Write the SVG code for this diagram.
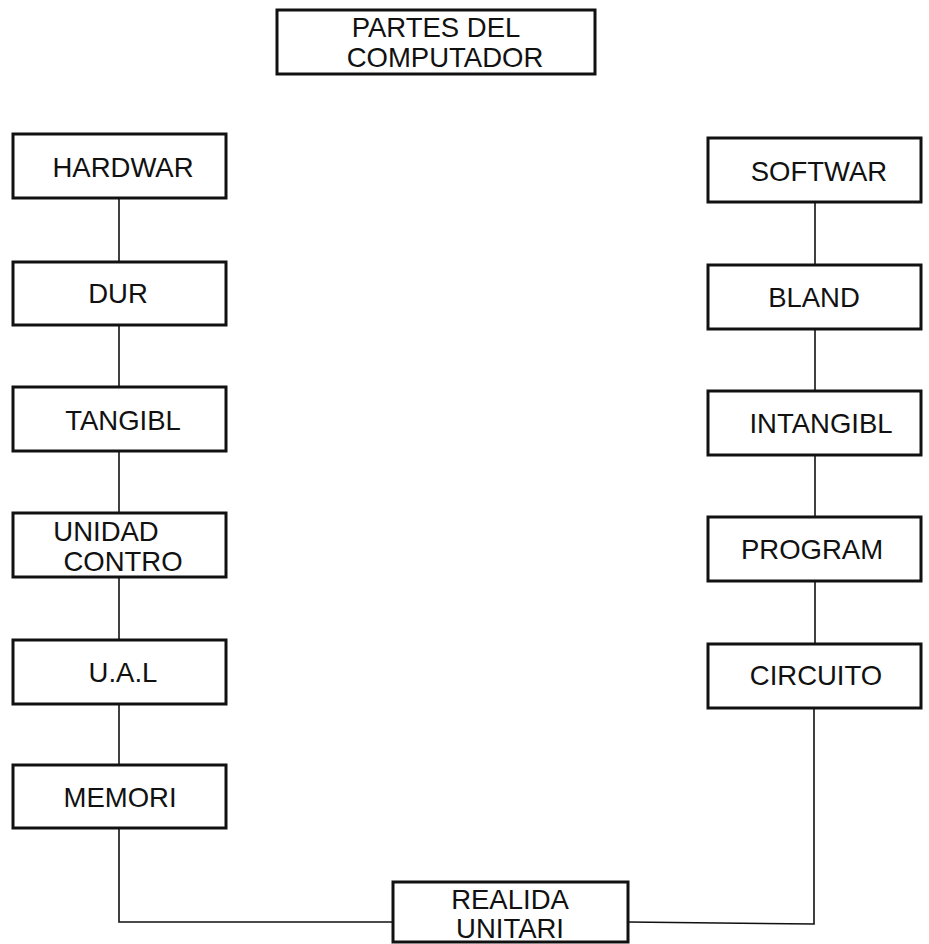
<svg xmlns="http://www.w3.org/2000/svg" width="929" height="944" viewBox="0 0 929 944">
<style>
.box{fill:#fff;stroke:#111;stroke-width:3}
.lbl{font-family:"Liberation Sans",Arial,sans-serif;font-size:27.5px;fill:#111;text-anchor:middle}
.con{fill:none;stroke:#111;stroke-width:1.6}
</style>
<rect width="929" height="944" fill="#fff"/>
<g id="connectors">
<line class="con" x1="119" y1="198" x2="119" y2="262"/>
<line class="con" x1="119" y1="325" x2="119" y2="387"/>
<line class="con" x1="119" y1="451" x2="119" y2="513"/>
<line class="con" x1="119" y1="577" x2="119" y2="640"/>
<line class="con" x1="119" y1="704" x2="119" y2="765"/>
<line class="con" x1="815" y1="202" x2="815" y2="265"/>
<line class="con" x1="815" y1="329" x2="815" y2="391"/>
<line class="con" x1="815" y1="455" x2="815" y2="517"/>
<line class="con" x1="815" y1="581" x2="815" y2="644"/>
<polyline class="con" points="119,829 119,922 393,922"/>
<polyline class="con" points="628,922 814,924 814,708"/>
</g>
<g id="title">
<rect class="box" x="277" y="10" width="318" height="64"/>
<text class="lbl" x="436" y="37">PARTES DEL</text>
<text class="lbl" x="445" y="67">COMPUTADOR</text>
</g>
<g id="hardwar">
<rect class="box" x="13" y="134" width="213" height="64"/>
<text class="lbl" x="123" y="177">HARDWAR</text>
</g>
<g id="dur">
<rect class="box" x="13" y="262" width="213" height="63"/>
<text class="lbl" x="118" y="303">DUR</text>
</g>
<g id="tangibl">
<rect class="box" x="13" y="387" width="213" height="64"/>
<text class="lbl" x="123" y="430">TANGIBL</text>
</g>
<g id="unidad">
<rect class="box" x="13" y="513" width="213" height="64"/>
<text class="lbl" x="106" y="541">UNIDAD</text>
<text class="lbl" x="123" y="571">CONTRO</text>
</g>
<g id="ual">
<rect class="box" x="13" y="640" width="213" height="64"/>
<text class="lbl" x="123" y="682">U.A.L</text>
</g>
<g id="memori">
<rect class="box" x="13" y="765" width="213" height="63"/>
<text class="lbl" x="120" y="807">MEMORI</text>
</g>
<g id="softwar">
<rect class="box" x="708" y="138" width="213" height="64"/>
<text class="lbl" x="819" y="181">SOFTWAR</text>
</g>
<g id="bland">
<rect class="box" x="708" y="265" width="213" height="64"/>
<text class="lbl" x="814" y="307">BLAND</text>
</g>
<g id="intangibl">
<rect class="box" x="708" y="391" width="213" height="64"/>
<text class="lbl" x="821" y="433">INTANGIBL</text>
</g>
<g id="program">
<rect class="box" x="708" y="517" width="213" height="64"/>
<text class="lbl" x="812" y="559">PROGRAM</text>
</g>
<g id="circuito">
<rect class="box" x="708" y="644" width="213" height="64"/>
<text class="lbl" x="816" y="685">CIRCUITO</text>
</g>
<g id="realida">
<rect class="box" x="393" y="882" width="235" height="60"/>
<text class="lbl" x="510" y="909">REALIDA</text>
<text class="lbl" x="510" y="938">UNITARI</text>
</g>
</svg>
